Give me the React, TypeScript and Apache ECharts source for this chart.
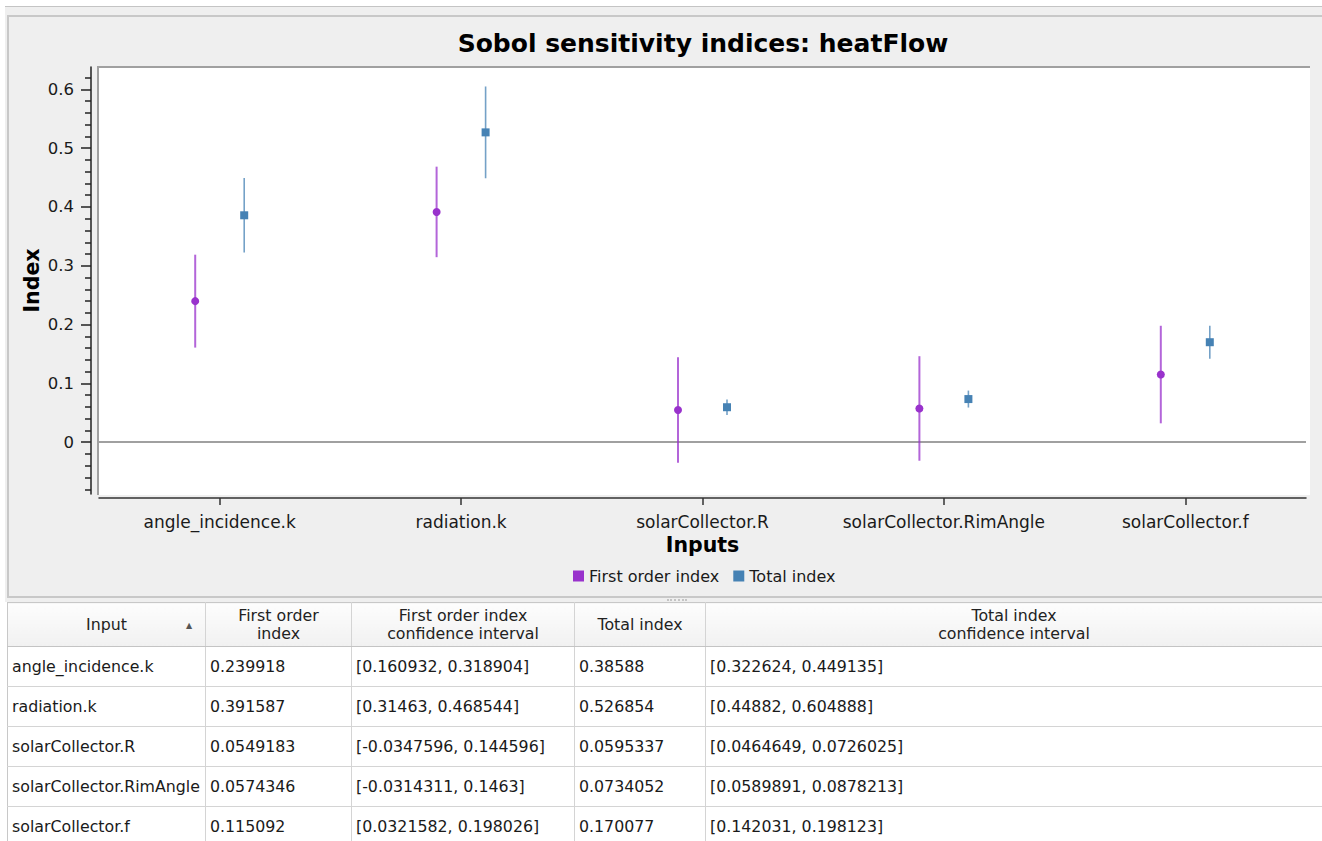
import React, { useEffect, useRef } from "react";
import * as echarts from "echarts";

const categories = [
  "angle_incidence.k",
  "radiation.k",
  "solarCollector.R",
  "solarCollector.RimAngle",
  "solarCollector.f",
];
const firstOrder = [0.239918, 0.391587, 0.0549183, 0.0574346, 0.115092];
const firstLow = [0.160932, 0.31463, -0.0347596, -0.0314311, 0.0321582];
const firstHigh = [0.318904, 0.468544, 0.144596, 0.1463, 0.198026];
const totalIndex = [0.38588, 0.526854, 0.0595337, 0.0734052, 0.170077];
const totalLow = [0.322624, 0.44882, 0.0464649, 0.0589891, 0.142031];
const totalHigh = [0.449135, 0.604888, 0.0726025, 0.0878213, 0.198123];

const yMajorTicks = [0, 0.1, 0.2, 0.3, 0.4, 0.5, 0.6];
const yMinorTicks = [
  -0.08, -0.06, -0.04, -0.02, 0.02, 0.04, 0.06, 0.08, 0.12, 0.14, 0.16, 0.18,
  0.22, 0.24, 0.26, 0.28, 0.32, 0.34, 0.36, 0.38, 0.42, 0.44, 0.46, 0.48, 0.52,
  0.54, 0.56, 0.58, 0.62,
];
const yMin = -0.088;
const yMax = 0.638;

const headers = [
  ["Input"],
  ["First order", "index"],
  ["First order index", "confidence interval"],
  ["Total index"],
  ["Total index", "confidence interval"],
];
const colWidths = [198, 146, 223, 131, 617];

const FONT = "'DejaVu Sans', sans-serif";
const PURPLE = "#9932CC";
const BLUE = "#4682B4";

function makeErrorSeries(name: string, low: number[], high: number[], offset: number, color: string, width: number) {
  return {
    type: "custom",
    name,
    silent: true,
    z: 2,
    encode: { x: 0, y: [1, 2] },
    data: categories.map((_, i) => [i, low[i], high[i]]),
    renderItem: (params: any, api: any) => {
      const a = api.coord([api.value(0), api.value(1)]);
      const b = api.coord([api.value(0), api.value(2)]);
      return {
        type: "line",
        shape: { x1: a[0] + offset, y1: a[1], x2: b[0] + offset, y2: b[1] },
        style: { stroke: color, lineWidth: width, opacity: 0.75 },
      };
    },
  };
}

function Chart() {
  const ref = useRef<HTMLDivElement>(null);
  useEffect(() => {
    if (!ref.current) return;
    const chart = echarts.init(ref.current, null, { renderer: "svg" });
    const fmt = (v: any) => {
      const n = +(+v).toFixed(2);
      return String(n);
    };
    chart.setOption({
      animation: false,
      title: {
        text: "Sobol sensitivity indices: heatFlow",
        left: 698,
        textAlign: "center",
        top: 26,
        textStyle: { fontFamily: FONT, fontSize: 25, fontWeight: "bold", color: "#000" },
      },
      legend: {
        data: ["First order index", "Total index"],
        left: 568,
        top: 563,
        icon: "rect",
        itemWidth: 11,
        itemHeight: 11,
        itemGap: 14,
        textStyle: { fontFamily: FONT, fontSize: 16, color: "#1a1a1a" },
      },
      grid: { left: 99, right: 16, top: 67, bottom: 106, containLabel: false },
      xAxis: {
        type: "category",
        data: categories,
        offset: 4,
        axisLine: { show: true, onZero: false, lineStyle: { color: "#333", width: 1.5 } },
        axisTick: { show: true, alignWithLabel: true, length: 7, lineStyle: { color: "#333", width: 1.5 } },
        axisLabel: { interval: 0, margin: 15, fontFamily: FONT, fontSize: 17, color: "#1a1a1a" },
        splitLine: { show: false },
        name: "Inputs",
        nameLocation: "middle",
        nameGap: 36,
        nameMoveOverlap: false,
        nameTextStyle: { fontFamily: FONT, fontSize: 20.5, fontWeight: "bold", color: "#000" },
      },
      yAxis: [
        {
          type: "value",
          min: yMin,
          max: yMax,
          position: "left",
          offset: 8,
          axisLine: { show: true, lineStyle: { color: "#222", width: 1.5 } },
          axisTick: { show: true, customValues: yMajorTicks, length: 10, lineStyle: { color: "#222", width: 1.5 } },
          axisLabel: { customValues: yMajorTicks, margin: 17, fontFamily: FONT, fontSize: 16.5, color: "#1a1a1a", formatter: fmt },
          splitLine: { show: false },
          name: "Index",
          nameLocation: "middle",
          nameRotate: 90,
          nameGap: 49,
          nameMoveOverlap: false,
          nameTextStyle: { fontFamily: FONT, fontSize: 20.5, fontWeight: "bold", color: "#000" },
        },
        {
          type: "value",
          min: yMin,
          max: yMax,
          position: "left",
          offset: 8,
          axisLine: { show: false },
          axisTick: { show: true, customValues: yMinorTicks, length: 6, lineStyle: { color: "#222", width: 1.5 } },
          axisLabel: { show: false },
          splitLine: { show: false },
        },
      ],
      series: [
        makeErrorSeries("First order CI", firstLow, firstHigh, -24.5, PURPLE, 2),
        makeErrorSeries("Total CI", totalLow, totalHigh, 24.5, BLUE, 1.6),
        {
          type: "scatter",
          name: "First order index",
          data: firstOrder,
          symbol: "circle",
          symbolSize: 8,
          symbolOffset: [-24.5, 0],
          itemStyle: { color: PURPLE, opacity: 1 },
          z: 3,
          markLine: {
            silent: true,
            symbol: ["none", "none"],
            label: { show: false },
            lineStyle: { color: "#a0a0a0", width: 2, type: "solid" },
            data: [{ yAxis: 0 }],
            z: 1,
          },
        },
        {
          type: "scatter",
          name: "Total index",
          data: totalIndex,
          symbol: "rect",
          symbolSize: 8,
          symbolOffset: [24.5, 0],
          itemStyle: { color: BLUE, opacity: 1 },
          z: 3,
        },
      ],
    });
    return () => chart.dispose();
  }, []);
  return (
    <div
      ref={ref}
      style={{ position: "absolute", left: 0, top: 0, width: 1322, height: 600, zIndex: 2 }}
    />
  );
}

function Table() {
  const rows = categories.map((c, i) => [
    c,
    String(firstOrder[i]),
    `[${firstLow[i]}, ${firstHigh[i]}]`,
    String(totalIndex[i]),
    `[${totalLow[i]}, ${totalHigh[i]}]`,
  ]);
  const cellBorder = "1px solid #d4d4d4";
  return (
    <table
      style={{
        position: "absolute",
        left: 7,
        top: 602,
        borderCollapse: "collapse",
        tableLayout: "fixed",
        width: colWidths.reduce((a, b) => a + b, 0),
        fontFamily: FONT,
        fontSize: 15.8,
        color: "#1a1a1a",
        background: "#fff",
      }}
    >
      <colgroup>
        {colWidths.map((w, i) => (
          <col key={i} style={{ width: w }} />
        ))}
      </colgroup>
      <thead>
        <tr style={{ height: 44 }}>
          {headers.map((h, i) => (
            <th
              key={i}
              style={{
                fontWeight: "normal",
                color: "#222",
                textAlign: "center",
                lineHeight: "18px",
                padding: 0,
                background: "linear-gradient(#fdfdfd, #f1f1f1)",
                borderRight: cellBorder,
                borderTop: "1px solid #c8c8c8",
                borderBottom: "1px solid #c4c4c4",
                borderLeft: i === 0 ? "1px solid #c8c8c8" : undefined,
                position: "relative",
              }}
            >
              {h.map((line, k) => (
                <div key={k}>{line}</div>
              ))}
              {i === 0 && (
                <span style={{ position: "absolute", left: 178, top: 14, fontSize: 8, color: "#555" }}>▲</span>
              )}
            </th>
          ))}
        </tr>
      </thead>
      <tbody>
        {rows.map((r, ri) => (
          <tr key={ri} style={{ height: 40 }}>
            {r.map((v, ci) => (
              <td
                key={ci}
                style={{
                  padding: "0 0 0 4px",
                  whiteSpace: "nowrap",
                  overflow: "hidden",
                  borderRight: cellBorder,
                  borderBottom: cellBorder,
                  borderLeft: ci === 0 ? "1px solid #c8c8c8" : undefined,
                }}
              >
                {v}
              </td>
            ))}
          </tr>
        ))}
      </tbody>
    </table>
  );
}

export default function App() {
  return (
    <div
      style={{
        position: "absolute",
        left: 0,
        top: 0,
        width: 1322,
        height: 841,
        overflow: "hidden",
        background: "#fff",
        fontFamily: FONT,
      }}
    >
      <div
        style={{
          position: "absolute",
          left: 5,
          top: 6,
          width: 1317,
          height: 596,
          background: "#efefef",
          borderTop: "1px solid #c4c4c4",
          boxSizing: "border-box",
        }}
      />
      <div
        style={{
          position: "absolute",
          left: 7,
          top: 15,
          width: 1315,
          height: 583,
          background: "#efefef",
          borderTop: "2px solid #c8c8c8",
          borderLeft: "2px solid #c8c8c8",
          borderBottom: "2px solid #c8c8c8",
          boxSizing: "border-box",
        }}
      />
      <div
        style={{
          position: "absolute",
          left: 97,
          top: 66,
          width: 1213,
          height: 429,
          background: "#fff",
          borderTop: "2px solid #a0a0a0",
          borderLeft: "2px solid #a0a0a0",
          boxSizing: "border-box",
        }}
      />
      <div
        style={{
          position: "absolute",
          left: 667,
          top: 599,
          width: 20,
          height: 0,
          borderTop: "2px dotted #c4c4c4",
        }}
      />
      <Chart />
      <Table />
    </div>
  );
}
